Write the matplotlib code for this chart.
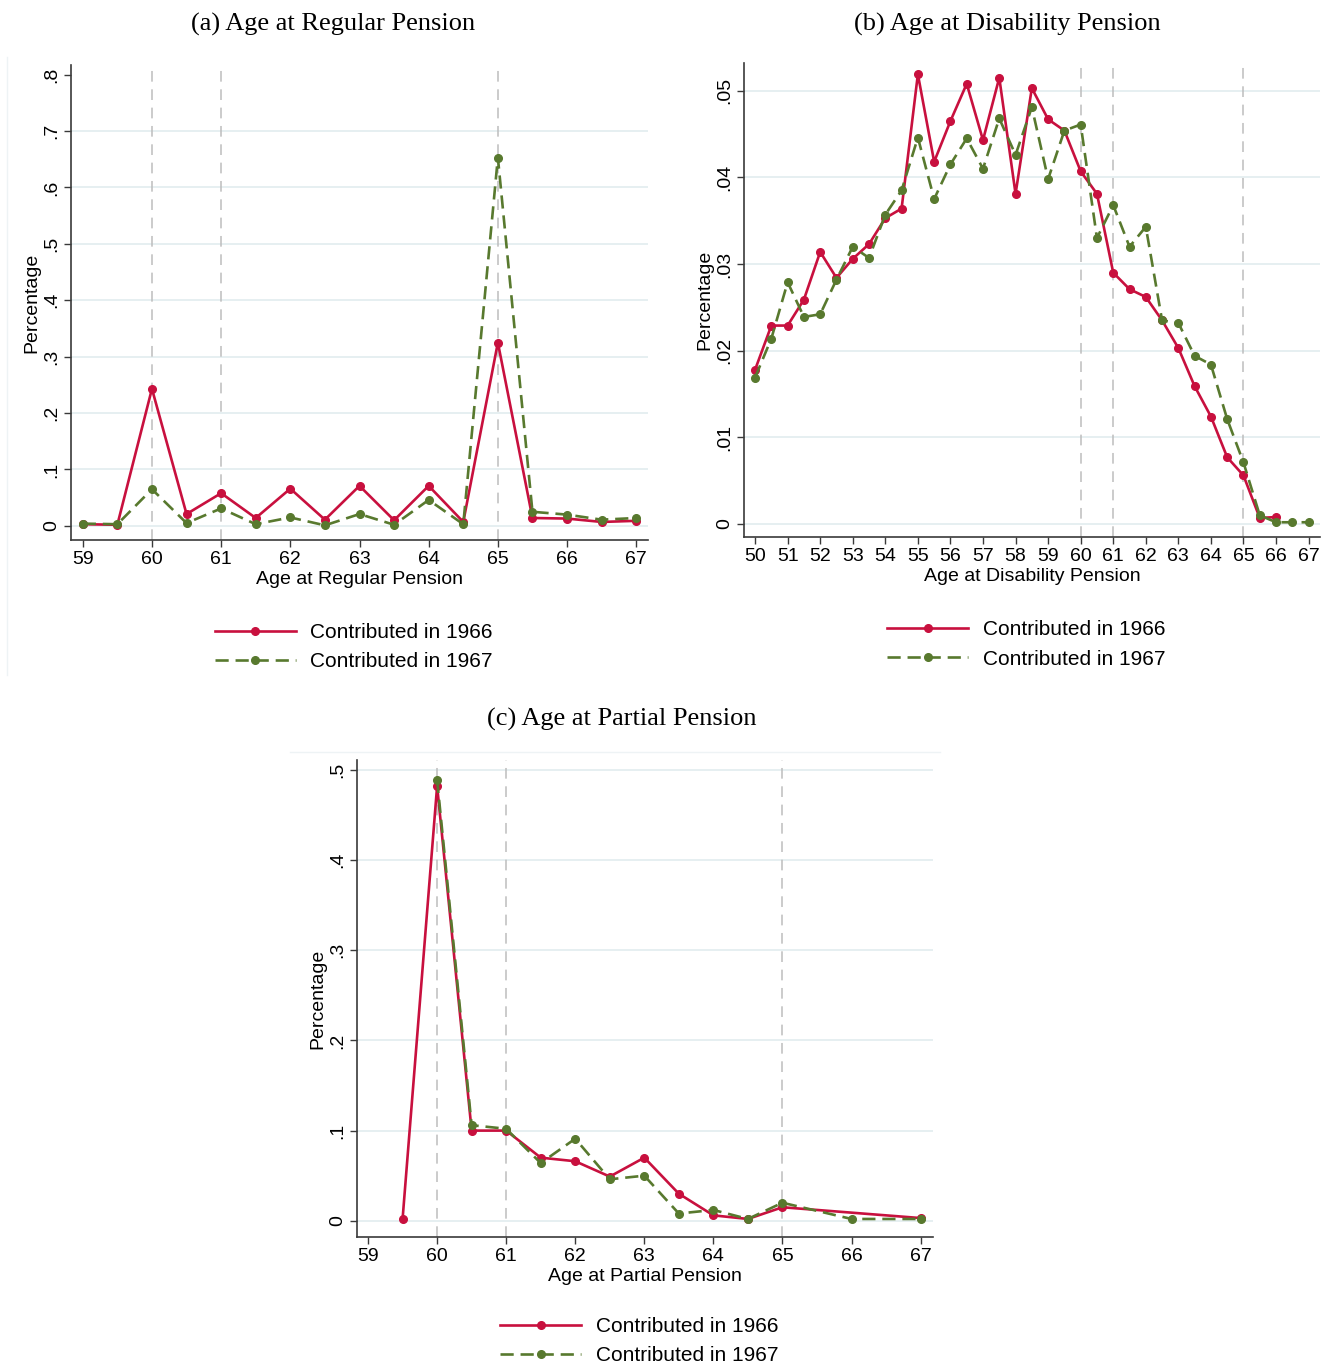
import matplotlib
matplotlib.use('Agg')
import matplotlib.pyplot as plt
from matplotlib.lines import Line2D

# ---------------- data ----------------
reg_age = [59, 59.5, 60, 60.5, 61, 61.5, 62, 62.5, 63, 63.5, 64, 64.5, 65, 65.5, 66, 66.5, 67]
reg_1966 = [0.003, 0.002, 0.243, 0.021, 0.058, 0.014, 0.066, 0.011, 0.071, 0.010, 0.071, 0.007, 0.325, 0.014, 0.013, 0.007, 0.009]
reg_1967 = [0.004, 0.003, 0.065, 0.005, 0.031, 0.003, 0.015, 0.001, 0.021, 0.002, 0.046, 0.003, 0.653, 0.025, 0.020, 0.011, 0.014]

dis_age_1966 = [50, 50.5, 51, 51.5, 52, 52.5, 53, 53.5, 54, 54.5, 55, 55.5, 56, 56.5, 57, 57.5,
                58, 58.5, 59, 59.5, 60, 60.5, 61, 61.5, 62, 62.5, 63, 63.5, 64, 64.5, 65, 65.5, 66]
dis_1966 = [0.0178, 0.0229, 0.0229, 0.0259, 0.0314, 0.0284, 0.0306, 0.0323, 0.0353, 0.0364, 0.0519,
            0.0418, 0.0465, 0.0508, 0.0443, 0.0515, 0.0381, 0.0503, 0.0467, 0.0454, 0.0407, 0.0381,
            0.0290, 0.0271, 0.0262, 0.0235, 0.0203, 0.0159, 0.0124, 0.0077, 0.0056, 0.0007, 0.0008]
dis_age_1967 = [50, 50.5, 51, 51.5, 52, 52.5, 53, 53.5, 54, 54.5, 55, 55.5, 56, 56.5, 57, 57.5,
                58, 58.5, 59, 59.5, 60, 60.5, 61, 61.5, 62, 62.5, 63, 63.5, 64, 64.5, 65, 65.5, 66, 66.5, 67]
dis_1967 = [0.0169, 0.0214, 0.0279, 0.0239, 0.0242, 0.0282, 0.0320, 0.0307, 0.0357, 0.0385, 0.0446,
            0.0375, 0.0415, 0.0445, 0.0410, 0.0468, 0.0426, 0.0481, 0.0398, 0.0454, 0.0461, 0.0330,
            0.0368, 0.0320, 0.0343, 0.0235, 0.0232, 0.0194, 0.0184, 0.0121, 0.0071, 0.0010, 0.0002,
            0.0002, 0.0002]

par_age_1966 = [59.5, 60, 60.5, 61, 61.5, 62, 62.5, 63, 63.5, 64, 64.5, 65, 67]
par_1966 = [0.002, 0.482, 0.100, 0.100, 0.070, 0.066, 0.049, 0.070, 0.030, 0.006, 0.002, 0.015, 0.003]
par_age_1967 = [60, 60.5, 61, 61.5, 62, 62.5, 63, 63.5, 64, 64.5, 65, 66, 67]
par_1967 = [0.489, 0.106, 0.102, 0.064, 0.091, 0.046, 0.050, 0.008, 0.012, 0.002, 0.020, 0.002, 0.002]

series_labels = ['Contributed in 1966', 'Contributed in 1967']
titles = ['(a) Age at Regular Pension', '(b) Age at Disability Pension', '(c) Age at Partial Pension']
xlabels = ['Age at Regular Pension', 'Age at Disability Pension', 'Age at Partial Pension']
ylabel = 'Percentage'
ref_lines = [60, 61, 65]

reg_yticks = [0, 0.1, 0.2, 0.3, 0.4, 0.5, 0.6, 0.7, 0.8]
reg_yticklabels = ['0', '.1', '.2', '.3', '.4', '.5', '.6', '.7', '.8']
dis_yticks = [0, 0.01, 0.02, 0.03, 0.04, 0.05]
dis_yticklabels = ['0', '.01', '.02', '.03', '.04', '.05']
par_yticks = [0, 0.1, 0.2, 0.3, 0.4, 0.5]
par_yticklabels = ['0', '.1', '.2', '.3', '.4', '.5']
reg_xticks = list(range(59, 68))
dis_xticks = list(range(50, 68))
par_xticks = list(range(59, 68))

# ---------------- style ----------------
SANS = ['Liberation Sans Narrow', 'Liberation Sans', 'DejaVu Sans']
SERIF = ['Liberation Serif', 'DejaVu Serif']
plt.rcParams['font.family'] = SANS
RED = '#C8103E'
GREEN = '#58792E'
GRID = '#E6EFF1'
SPINE = '#3A3A3A'

W, H = 1322, 1366
fig = plt.figure(figsize=(W / 100, H / 100), dpi=100)


def fx(px):
    return px / W


def fy(py):
    return 1 - py / H


def make_axes(l, t, r, b):
    return fig.add_axes([fx(l), fy(b), fx(r) - fx(l), fy(t) - fy(b)])


def style(ax, xlim, ylim, xticks, yticks, yticklabels, xlabel, grid_ticks):
    ax.set_xlim(*xlim)
    ax.set_ylim(*ylim)
    for s in ['top', 'right']:
        ax.spines[s].set_visible(False)
    for s in ['left', 'bottom']:
        ax.spines[s].set_color(SPINE)
        ax.spines[s].set_linewidth(1.2)
    for g in grid_ticks:
        ax.axhline(g, color=GRID, lw=1.4, zorder=0)
    for v in ref_lines:
        ax.axvline(v, color='#BDBDBD', lw=1.1, dashes=(7, 5), zorder=1)
    ax.set_xticks(xticks)
    ax.set_xticklabels([str(x) for x in xticks])
    ax.set_yticks(yticks)
    ax.set_yticklabels(yticklabels, rotation=90, va='center')
    ax.tick_params(axis='both', direction='out', length=5, width=1.0, color=SPINE,
                   labelsize=14, pad=3)
    ax.set_xlabel(xlabel, fontsize=14, labelpad=2)
    ax.set_ylabel(ylabel, fontsize=14, labelpad=2)


def plot_series(ax, x1, y1, x2, y2):
    ax.plot(x1, y1, color=RED, lw=1.9, marker='o', ms=5.5, zorder=3, label=series_labels[0])
    ax.plot(x2, y2, color=GREEN, lw=1.9, dashes=(5, 2.6), marker='o', ms=5.5, zorder=3,
            label=series_labels[1])


def add_legend(ax, anchor_y):
    ax.legend(loc='upper center', bbox_to_anchor=(0.49, anchor_y), frameon=False,
              fontsize=15, handlelength=3.9, handletextpad=0.7, labelspacing=0.5)


# panel (a)
axa = make_axes(71, 65, 648, 540)
plot_series(axa, reg_age, reg_1966, reg_age, reg_1967)
style(axa, (58.83, 67.17), (-0.025, 0.817), reg_xticks, reg_yticks, reg_yticklabels,
      xlabels[0], reg_yticks[:-1])
add_legend(axa, -0.135)

# panel (b)
axb = make_axes(744, 63, 1320, 537)
plot_series(axb, dis_age_1966, dis_1966, dis_age_1967, dis_1967)
style(axb, (49.66, 67.35), (-0.0015, 0.0532), dis_xticks, dis_yticks, dis_yticklabels,
      xlabels[1], dis_yticks)
add_legend(axb, -0.136)

# panel (c)
axc = make_axes(357, 760, 933, 1237)
plot_series(axc, par_age_1966, par_1966, par_age_1967, par_1967)
style(axc, (58.84, 67.18), (-0.018, 0.511), par_xticks, par_yticks, par_yticklabels,
      xlabels[2], par_yticks)
add_legend(axc, -0.128)

# titles
fig.text(fx(333), fy(24), titles[0], family=SERIF, fontsize=19, ha='center', va='center')
fig.text(fx(1007), fy(24), titles[1], family=SERIF, fontsize=19, ha='center', va='center')
fig.text(fx(622), fy(719), titles[2], family=SERIF, fontsize=19, ha='center', va='center')

# faint panel frames
FRAME = '#EEF3F5'
fig.add_artist(Line2D([fx(7), fx(7)], [fy(57), fy(675)], color=FRAME, lw=1))
fig.add_artist(Line2D([fx(290), fx(940)], [fy(752), fy(752)], color=FRAME, lw=1))

fig.savefig('out.png', dpi=100)
